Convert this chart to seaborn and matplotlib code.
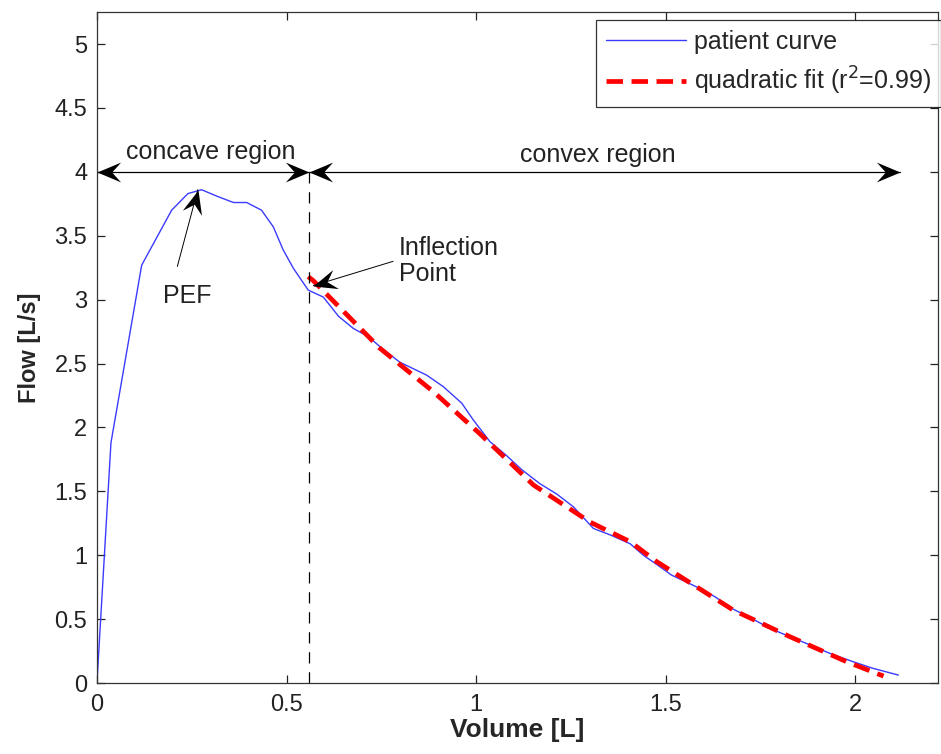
import numpy as np
import pandas as pd
import matplotlib
matplotlib.use("Agg")
import matplotlib.pyplot as plt
import seaborn as sns
from matplotlib.path import Path
from matplotlib.markers import MarkerStyle
from matplotlib.transforms import Affine2D

# patient flow-volume curve
volume = [0.0, 0.037, 0.118, 0.197, 0.24, 0.276, 0.316, 0.36, 0.395, 0.434, 0.465,
          0.491, 0.518, 0.557, 0.597, 0.637, 0.676, 0.716, 0.755, 0.799, 0.869,
          0.913, 0.962, 0.992, 1.036, 1.080, 1.120, 1.168, 1.212, 1.256, 1.309,
          1.353, 1.406, 1.441, 1.480, 1.515, 1.590, 1.630, 1.674, 1.726, 1.775,
          1.806, 1.871, 1.933, 1.994, 2.047, 2.113]
flow = [0.0, 1.88, 3.27, 3.70, 3.83, 3.86, 3.81, 3.76, 3.76, 3.70, 3.57,
        3.39, 3.245, 3.075, 3.02, 2.87, 2.775, 2.71, 2.61, 2.51, 2.41,
        2.32, 2.19, 2.06, 1.89, 1.78, 1.67, 1.56, 1.48, 1.38, 1.21,
        1.16, 1.09, 1.00, 0.92, 0.845, 0.74, 0.675, 0.584, 0.506, 0.428,
        0.389, 0.31, 0.232, 0.167, 0.115, 0.063]

# quadratic fit over the convex region
fit_volume = [0.557, 0.570, 0.746, 0.887, 1.010, 1.151, 1.300, 1.406, 1.476,
              1.678, 1.828, 1.977, 2.074]
fit_flow = [3.18, 3.15, 2.62, 2.28, 1.95, 1.55, 1.26, 1.106, 0.95,
            0.571, 0.362, 0.167, 0.055]

inflection_x = 0.56
convex_end = 2.117
arrow_y = 4.0
pef_text = (0.237, 3.03)
pef_tail = (0.212, 3.26)
pef_tip = (0.266, 3.86)
infl_tail = (0.781, 3.30)
infl_tip = (0.571, 3.11)

sns.set_style("ticks")
plt.rcParams['font.family'] = ['Liberation Sans', 'DejaVu Sans']
txt = '#222222'

fig = plt.figure(figsize=(9.41, 7.54), dpi=100)
ax = fig.add_axes([0.103, 0.094, 0.894, 0.890])
ax.set_xlim(0, 2.218)
ax.set_ylim(0, 5.25)

curve = pd.DataFrame({'Volume': volume, 'Flow': flow})
fit = pd.DataFrame({'Volume': fit_volume, 'Flow': fit_flow})

sns.lineplot(data=curve, x='Volume', y='Flow', sort=False, ax=ax,
             color='#3b3bff', linewidth=1.0, label='patient curve')
sns.lineplot(data=fit, x='Volume', y='Flow', sort=False, ax=ax,
             color='red', linewidth=3.4, label='quadratic fit (r$^2$=0.99)')
ax.lines[-1].set_linestyle((0, (3.5, 1.8)))

# inflection marker
ax.plot([inflection_x, inflection_x], [0, arrow_y], color='black',
        linestyle=(0, (9, 7)), linewidth=0.9)

# matlab-like arrow head (tip at origin, notched back)
head = Path([(0, 0), (-1, 0.42), (-0.62, 0), (-1, -0.42), (0, 0)],
            [Path.MOVETO, Path.LINETO, Path.LINETO, Path.LINETO, Path.CLOSEPOLY])


def arrow(p0, p1, lw=0.9, both=False):
    ax.plot([p0[0], p1[0]], [p0[1], p1[1]], color='black', lw=lw)
    d0 = ax.transData.transform(p0)
    d1 = ax.transData.transform(p1)
    ang = np.degrees(np.arctan2(d1[1] - d0[1], d1[0] - d0[0]))
    ends = [(p1, ang)] + ([(p0, ang + 180)] if both else [])
    for pt, a in ends:
        m = MarkerStyle(head, transform=Affine2D().rotate_deg(a))
        ax.plot([pt[0]], [pt[1]], marker=m, markersize=34, color='black',
                markeredgewidth=0, linestyle='none', clip_on=False)


arrow((0.0, arrow_y), (inflection_x, arrow_y), both=True)
arrow((inflection_x, arrow_y), (convex_end, arrow_y), both=True)
ax.text(0.30, 4.155, 'concave region', ha='center', va='center', fontsize=18, color=txt)
ax.text(1.32, 4.13, 'convex region', ha='center', va='center', fontsize=18, color=txt)

arrow(pef_tail, pef_tip, lw=0.7)
ax.text(pef_text[0], pef_text[1], 'PEF', ha='center', va='center', fontsize=18, color=txt)
arrow(infl_tail, infl_tip, lw=0.7)
ax.text(0.797, 3.30, 'Inflection\nPoint', ha='left', va='center', fontsize=18,
        color=txt, linespacing=1.12)

ax.set_xticks([0, 0.5, 1, 1.5, 2])
ax.set_xticklabels(['0', '0.5', '1', '1.5', '2'])
yt = [0, 0.5, 1, 1.5, 2, 2.5, 3, 3.5, 4, 4.5, 5]
ax.set_yticks(yt)
ax.set_yticklabels(['0', '0.5', '1', '1.5', '2', '2.5', '3', '3.5', '4', '4.5', '5'])
ax.tick_params(direction='in', top=True, right=True, length=6, width=0.9,
               labelsize=17, colors='#222222')
ax.tick_params(axis='x', pad=8)
ax.tick_params(axis='y', pad=7)
for s in ax.spines.values():
    s.set_linewidth(0.9)
    s.set_color('#333333')

ax.set_xlabel('Volume [L]', fontsize=19, fontweight='bold', labelpad=1)
ax.set_ylabel('Flow [L/s]', fontsize=17, fontweight='bold', labelpad=10)

leg = ax.legend(loc='upper right', bbox_to_anchor=(1.003, 0.988), fontsize=18,
                frameon=True, fancybox=False, edgecolor='black', handlelength=3.2,
                borderaxespad=0, handletextpad=0.3, labelspacing=0.42,
                borderpad=0.4)
leg.get_frame().set_linewidth(0.9)

fig.savefig('out.png', dpi=100)
